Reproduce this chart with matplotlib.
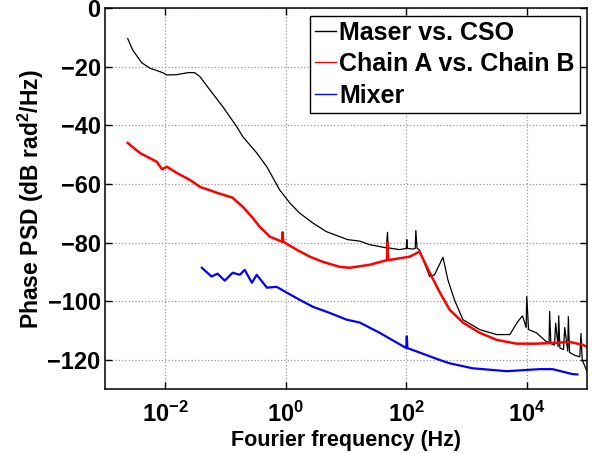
import numpy as np
import matplotlib
matplotlib.use('Agg')
import matplotlib.pyplot as plt
from matplotlib.lines import Line2D
from matplotlib.font_manager import FontProperties

plt.rcParams['font.family'] = ['Liberation Sans', 'DejaVu Sans']
plt.rcParams['font.weight'] = 'bold'
plt.rcParams['mathtext.fontset'] = 'custom'
plt.rcParams['mathtext.rm'] = 'Liberation Sans:bold'
plt.rcParams['mathtext.bf'] = 'Liberation Sans:bold'


# Maser vs. CSO (log10 of frequency in Hz, phase PSD in dB)
black_logf = [-2.62, -2.54, -2.39, -2.25, -2.04, -1.97, -1.81, -1.62, -1.51, -1.42,
              -1.26, -1.04, -0.81, -0.71, -0.48, -0.31, -0.10, 0.07, 0.23, 0.45,
              0.68, 0.90, 1.03, 1.23, 1.39, 1.67, 1.69, 1.70, 1.89, 2.00,
              2.01, 2.02, 2.12, 2.15, 2.16, 2.18, 2.22, 2.39, 2.47, 2.61,
              2.69, 2.80, 2.94, 3.22, 3.50, 3.72, 3.85, 3.93, 3.99, 4.00,
              4.03, 4.16, 4.33, 4.37, 4.38, 4.40, 4.46, 4.48, 4.52, 4.53,
              4.55, 4.61, 4.63, 4.68, 4.69, 4.71, 4.80, 4.88, 4.90, 4.92, 5.00]
black_db = [-10.4, -14.2, -18.6, -20.5, -22.0, -22.8, -22.7, -22.0, -22.0, -23.4,
            -27.8, -33.7, -40.5, -43.9, -49.4, -54.2, -62.0, -66.5, -69.9, -73.3,
            -76.3, -78.0, -79.0, -79.5, -80.7, -81.8, -76.5, -81.8, -82.4, -82.0,
            -79.0, -82.0, -82.2, -82.0, -75.9, -82.0, -82.5, -91.6, -91.0, -85.0,
            -92.6, -99.5, -106.3, -109.7, -111.4, -111.4, -107.0, -105.0, -109.0, -98.4,
            -109.7, -110.8, -113.9, -114.0, -103.5, -114.5, -115.0, -107.5, -115.5, -105.0,
            -116.0, -116.5, -109.0, -117.0, -105.3, -117.5, -118.5, -119.0, -111.0, -120.0, -124.0]

# Chain A vs. Chain B
red_logf = [-2.62, -2.42, -2.14, -2.05, -1.97, -1.81, -1.59, -1.42, -1.14, -0.88,
            -0.71, -0.55, -0.43, -0.26, -0.06, -0.05, -0.04, 0.18, 0.40, 0.62,
            0.90, 1.06, 1.39, 1.68, 1.69, 1.70, 1.73, 2.06, 2.22, 2.39,
            2.56, 2.72, 2.94, 3.22, 3.50, 3.83, 4.16, 4.50, 4.71, 4.93, 5.00]
red_db = [-46.0, -49.4, -52.4, -55.0, -54.1, -56.2, -58.6, -61.0, -63.0, -64.7,
          -67.8, -71.5, -74.6, -78.0, -79.7, -76.5, -79.7, -82.4, -84.8, -86.6,
          -88.3, -88.6, -87.6, -86.0, -80.0, -86.0, -85.9, -84.8, -83.1, -90.3,
          -97.1, -102.9, -107.3, -110.8, -113.2, -114.5, -114.5, -114.2, -113.9, -114.9, -115.6]

# Mixer
blue_logf = [-1.39, -1.23, -1.13, -1.01, -0.88, -0.76, -0.68, -0.56, -0.48, -0.31,
             -0.15, 0.02, 0.23, 0.45, 0.73, 1.01, 1.23, 1.56, 2.00, 2.01,
             2.02, 2.56, 2.72, 3.10, 3.67, 4.21, 4.43, 4.76, 4.84]
blue_db = [-88.6, -91.6, -90.6, -93.0, -90.3, -91.0, -89.3, -93.7, -91.0, -95.4,
           -95.1, -97.1, -99.5, -101.9, -104.0, -106.3, -107.3, -110.8, -116.0, -112.0,
           -116.0, -120.1, -121.2, -122.9, -123.9, -123.2, -123.2, -124.9, -125.0]

labels = ['Maser vs. CSO', 'Chain A vs. Chain B', 'Mixer']
colors = ['k', '#ff0000', '#0000ff']

xticks = [1e-2, 1e0, 1e2, 1e4]
xtick_labels = [r'$\mathbf{10^{-2}}$', r'$\mathbf{10^{0}}$', r'$\mathbf{10^{2}}$', r'$\mathbf{10^{4}}$']
yticks = [0, -20, -40, -60, -80, -100, -120]

fig = plt.figure(figsize=(5.99, 4.54), dpi=100)
ax = fig.add_axes([0.175, 0.143, 0.805, 0.839])

ax.semilogx(10 ** np.array(black_logf), black_db, color=colors[0], lw=0.9)
ax.semilogx(10 ** np.array(red_logf), red_db, color=colors[1], lw=1.8)
ax.semilogx(10 ** np.array(blue_logf), blue_db, color=colors[2], lw=1.6)

ax.set_xlim(1e-3, 1e5)
ax.set_ylim(-130, 0)
ax.set_xticks(xticks)
ax.set_xticklabels(xtick_labels)
ax.xaxis.set_minor_locator(matplotlib.ticker.NullLocator())
ax.set_yticks(yticks)
ax.set_yticklabels(['0', '\u221220', '\u221240', '\u221260', '\u221280', '\u2212100', '\u2212120'])
ax.tick_params(direction='in', length=5, width=1, top=True, right=True,
               labelsize=17, pad=3)
ax.tick_params(axis='x', pad=9)
ax.grid(True, color='#999999', linestyle=':', linewidth=0.9)
for s in ax.spines.values():
    s.set_linewidth(1.1)

ax.set_xlabel('Fourier frequency (Hz)', fontsize=15.5, fontweight='bold', labelpad=2)
ax.set_ylabel('Phase PSD (dB rad$^2$/Hz)', fontsize=16.5, fontweight='bold', labelpad=1)

legend_font = FontProperties(family='Liberation Sans', weight='bold', size=18)
handles = [Line2D([], [], color=c, lw=1.0) for c in colors]
leg = ax.legend(handles, labels, loc='upper right', fancybox=False, prop=legend_font,
                framealpha=1, edgecolor='k', handlelength=0.85, handletextpad=0.12,
                borderpad=0.2, labelspacing=0.3, borderaxespad=0.3)
leg.get_frame().set_linewidth(1.0)

fig.savefig('out.png', dpi=100)
